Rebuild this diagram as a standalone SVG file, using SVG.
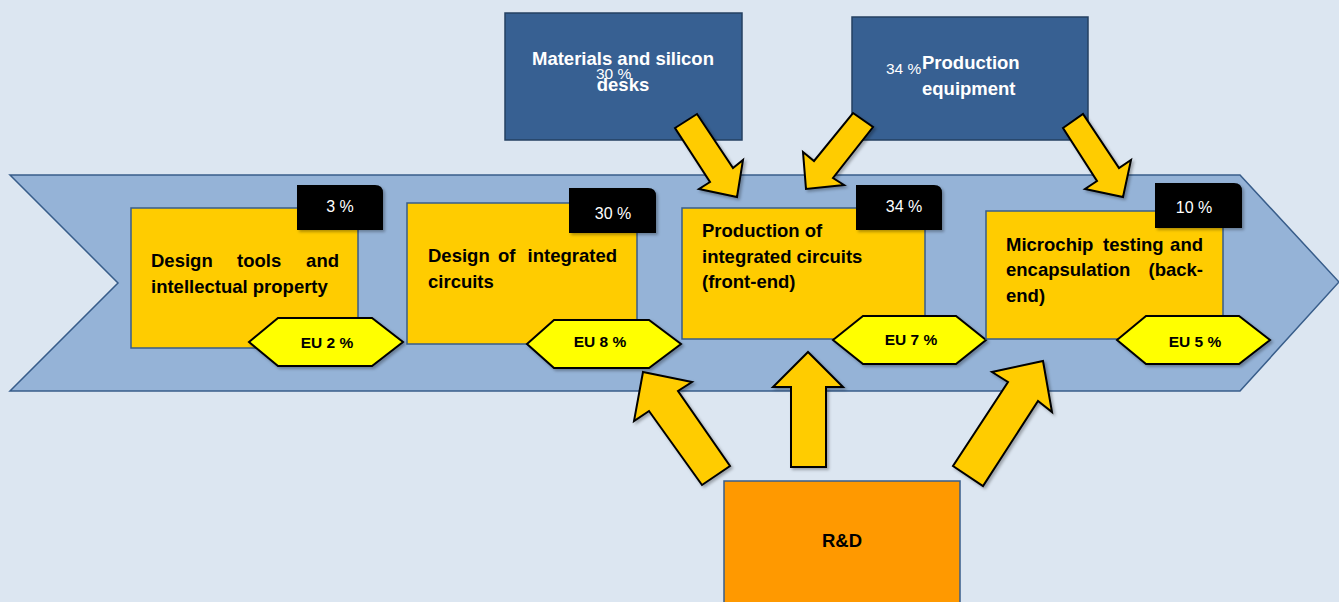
<svg xmlns="http://www.w3.org/2000/svg" width="1339" height="602" viewBox="0 0 1339 602">
  <defs>
    <filter id="shadow" x="-20%" y="-20%" width="140%" height="140%">
      <feDropShadow dx="2" dy="2" stdDeviation="1.5" flood-color="#000" flood-opacity="0.3"/>
    </filter>
    <style>
      .stage { fill: #ffcc00; stroke: #385d8a; stroke-width: 1.5; }
      .tag { fill: #000; filter: url(#shadow); }
      .tagtxt { fill: #fff; font-family: "Liberation Sans", Arial, sans-serif; font-size: 16px; text-anchor: middle; }
      .hex { fill: #ffff00; stroke: #000; stroke-width: 2; filter: url(#shadow); }
      .hextxt { fill: #000; font-family: "Liberation Sans", Arial, sans-serif; font-size: 15.5px; font-weight: bold; text-anchor: middle; }
      .lbl { fill: #000; font-family: "Liberation Sans", Arial, sans-serif; font-size: 18.5px; font-weight: bold; }
      .supply { fill: #376092; stroke: #254061; stroke-width: 1.5; }
      .wlbl { fill: #fff; font-family: "Liberation Sans", Arial, sans-serif; font-size: 18.5px; font-weight: bold; }
      .wsmall { fill: #fff; font-family: "Liberation Sans", Arial, sans-serif; font-size: 15.5px; }
      .arrow { fill: #ffcc00; stroke: #000; stroke-width: 2; stroke-linejoin: miter; filter: url(#shadow); }
    </style>
  </defs>

  <!-- page background -->
  <rect x="0" y="0" width="1339" height="602" fill="#dce6f1"/>

  <!-- value-chain chevron -->
  <polygon points="10,175 1240,175 1339,282 1240,391 10,391 118,283" fill="#95b3d7" stroke="#385d8a" stroke-width="1.5"/>

  <!-- stage 1 -->
  <g id="design-tools">
    <rect class="stage" x="131" y="208" width="227" height="140"/>
    <path class="tag" d="M297,185 H375 Q383,185 383,193 V230 H297 Z"/>
    <text class="tagtxt" x="340" y="212">3 %</text>
    <text class="lbl" x="151" y="267">Design</text>
    <text class="lbl" x="237" y="267">tools</text>
    <text class="lbl" x="339" y="267" text-anchor="end">and</text>
    <text class="lbl" x="151" y="293">intellectual property</text>
    <polygon class="hex" points="249,342 278,318 372,318 403,342 372,366 278,366"/>
    <text class="hextxt" x="327" y="348">EU 2 %</text>
  </g>

  <!-- stage 2 -->
  <g id="ic-design">
    <rect class="stage" x="407" y="203" width="230" height="141"/>
    <path class="tag" d="M569,188 H648 Q656,188 656,196 V233 H569 Z"/>
    <text class="tagtxt" x="613" y="219">30 %</text>
    <text class="lbl" x="428" y="262">Design</text>
    <text class="lbl" x="498" y="262">of</text>
    <text class="lbl" x="617" y="262" text-anchor="end">integrated</text>
    <text class="lbl" x="428" y="288">circuits</text>
    <polygon class="hex" points="527,344 554,320 649,320 681,344 649,368 554,368"/>
    <text class="hextxt" x="600" y="347">EU 8 %</text>
  </g>

  <!-- stage 3 -->
  <g id="front-end">
    <rect class="stage" x="682" y="208" width="243" height="131"/>
    <path class="tag" d="M856,185 H934 Q942,185 942,193 V230 H856 Z"/>
    <text class="tagtxt" x="904" y="212">34 %</text>
    <text class="lbl" x="702" y="237">Production of</text>
    <text class="lbl" x="702" y="263">integrated circuits</text>
    <text class="lbl" x="702" y="288">(front-end)</text>
    <polygon class="hex" points="833,340 863,316 956,316 986,340 956,364 863,364"/>
    <text class="hextxt" x="911" y="345">EU 7 %</text>
  </g>

  <!-- stage 4 -->
  <g id="back-end">
    <rect class="stage" x="986" y="211" width="237" height="128"/>
    <path class="tag" d="M1155,183 H1234 Q1242,183 1242,191 V228 H1155 Z"/>
    <text class="tagtxt" x="1194" y="213">10  %</text>
    <text class="lbl" x="1006" y="251">Microchip</text>
    <text class="lbl" x="1103" y="251">testing</text>
    <text class="lbl" x="1203" y="251" text-anchor="end">and</text>
    <text class="lbl" x="1006" y="276">encapsulation</text>
    <text class="lbl" x="1203" y="276" text-anchor="end">(back-</text>
    <text class="lbl" x="1006" y="302">end)</text>
    <polygon class="hex" points="1117,340 1146,316 1239,316 1270,340 1239,364 1146,364"/>
    <text class="hextxt" x="1195" y="347">EU 5 %</text>
  </g>

  <!-- suppliers -->
  <g id="materials">
    <rect class="supply" x="505" y="13" width="237" height="127"/>
    <text class="wlbl" x="623" y="65" text-anchor="middle">Materials and silicon</text>
    <text class="wsmall" x="596" y="79">30  %</text>
    <text class="wlbl" x="623" y="91" text-anchor="middle">desks</text>
  </g>

  <g id="equipment">
    <rect class="supply" x="852" y="17" width="236" height="123"/>
    <text class="wsmall" x="886" y="74">34 %</text>
    <text class="wlbl" x="922" y="69">Production</text>
    <text class="wlbl" x="922" y="95">equipment</text>
  </g>

  <!-- block arrows -->
  <g id="connectors">
    <polygon class="arrow" points="675,128 697,114 733,168 743,160 737,197 699,189 710,182"/>
    <polygon class="arrow" points="853,113 873,127 833,178 844,185 806,189 803,152 814,161"/>
    <polygon class="arrow" points="1063,128 1083,114 1119,168 1131,160 1123,197 1085,189 1097,181"/>
    <polygon class="arrow" points="643,372 692,382 678,391 730,466 702,485 649,411 634,421"/>
    <polygon class="arrow" points="791,467 791,387 773,387 808,352 843,387 826,387 826,467"/>
    <polygon class="arrow" points="1043,361 1052,412 1038,401 983,486 953,466 1008,382 992,372"/>
  </g>

  <!-- research -->
  <g id="rnd">
    <rect x="724" y="481" width="236" height="130" fill="#ff9900" stroke="#385d8a" stroke-width="1.5"/>
    <text class="lbl" x="842" y="547" text-anchor="middle">R&amp;D</text>
  </g>
</svg>
